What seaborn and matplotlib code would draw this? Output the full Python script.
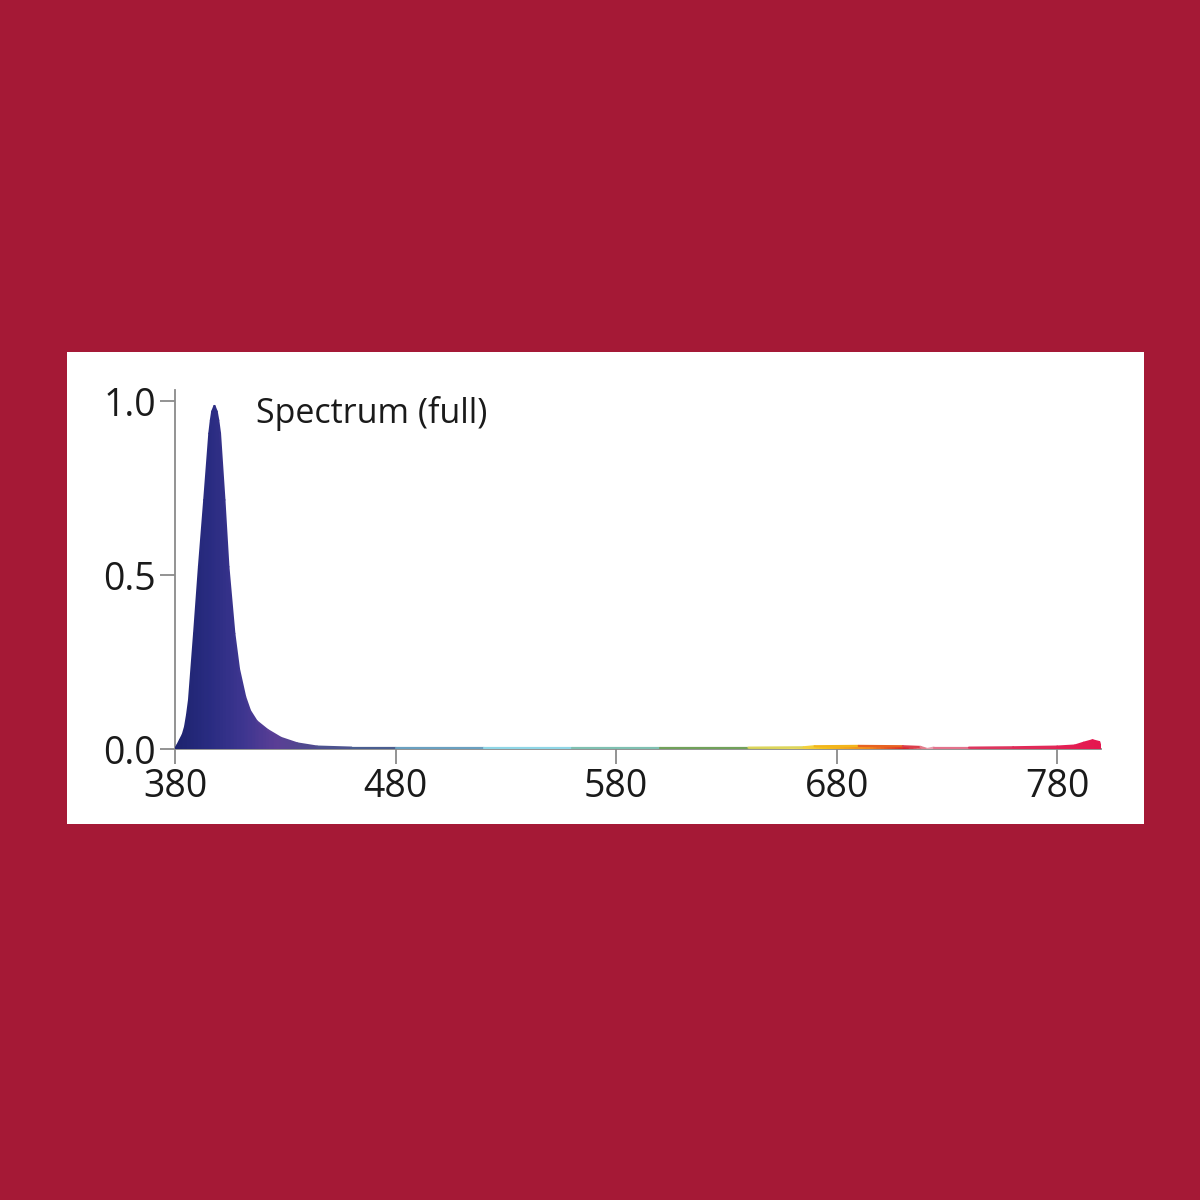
import numpy as np
import pandas as pd
import matplotlib
matplotlib.use('Agg')
import matplotlib.pyplot as plt
import matplotlib.patches as mpatches
from matplotlib.colors import LinearSegmentedColormap, Normalize
import seaborn as sns

# spectrum (wavelength in nm, relative intensity)
wavelength = [380, 381, 382.3, 383.6, 384.6, 385.5, 386.4, 388.7, 390.9, 393.3, 395.6,
              396.3, 396.9, 397.9, 398.9, 399.6, 400.4, 402.4, 404.2, 406.9, 409, 411.8,
              414, 417, 421.9, 428, 435.5, 444.4, 460, 480,
              520, 560, 600, 640, 665, 670, 690, 710, 718, 721, 724, 740, 760, 780,
              788, 792, 796, 799, 800]
intensity = [0.0, 0.01, 0.026, 0.042, 0.064, 0.098, 0.141, 0.332, 0.524, 0.716, 0.907,
             0.945, 0.970, 0.986, 0.970, 0.945, 0.907, 0.716, 0.524, 0.332, 0.23, 0.15,
             0.11, 0.08, 0.055, 0.032, 0.016, 0.007, 0.004, 0.004,
             0.004, 0.004, 0.004, 0.004, 0.005, 0.008, 0.009, 0.008, 0.006, 0.0, 0.004, 0.004,
             0.005, 0.007, 0.01, 0.018, 0.025, 0.02, 0.0]

x_ticks = [380, 480, 580, 680, 780]
y_ticks = [0.0, 0.5, 1.0]
y_labels = ['0.0', '0.5', '1.0']
title = 'Spectrum (full)'

# colour of the light at each wavelength
spec_nm = [380, 395, 410, 425, 440, 470, 500, 540, 580, 610, 640, 660, 675, 695, 712, 722, 745, 800]
spec_col = ['#1e2470', '#2a2c82', '#3e3690', '#5b3f96', '#4f4a8e', '#4a5f90', '#6aa0c0',
            '#8fd6e6', '#7fc0b0', '#4f9060', '#b0c050', '#f2e060', '#f3c21c', '#f08a1e',
            '#d8202a', '#e8a0b0', '#dc3a60', '#e5174f']
cmap = LinearSegmentedColormap.from_list(
    'spec', [((w - 380) / 420, c) for w, c in zip(spec_nm, spec_col)])
norm = Normalize(380, 800)

bg = '#A51936'
grey = '#8a8a8a'

sns.set_theme(style='ticks')
plt.rcParams['font.family'] = ['Liberation Sans Narrow', 'Open Sans', 'DejaVu Sans']

fig = plt.figure(figsize=(12, 12), dpi=100, facecolor=bg)

# white card behind the chart
card = fig.add_axes([0.0558, 0.3133, 0.8975, 0.3933])
card.set_facecolor('white')
card.set_xticks([])
card.set_yticks([])
for s in card.spines.values():
    s.set_visible(False)

ax = fig.add_axes([0.1458, 0.3758, 0.772, 0.2992])
ax.set_facecolor('none')

"""Gradient fill under the curve"""
ramp = np.linspace(380, 800, 600).reshape(1, -1)
img = ax.imshow(ramp, extent=[380, 800, 0, 1.05], aspect='auto', cmap=cmap, norm=norm,
                origin='lower', interpolation='bilinear', zorder=2)
shape = mpatches.Polygon(np.column_stack([wavelength, intensity]), closed=True,
                         transform=ax.transData)
img.set_clip_path(shape)

"""Outline coloured segment by segment"""
rows = []
for i in range(len(wavelength) - 1):
    mid = (wavelength[i] + wavelength[i + 1]) / 2
    rows.append((i, wavelength[i], intensity[i], mid))
    rows.append((i, wavelength[i + 1], intensity[i + 1], mid))
seg = pd.DataFrame(rows, columns=['seg', 'nm', 'val', 'mid'])
sns.lineplot(data=seg, x='nm', y='val', hue='mid', units='seg', estimator=None,
             palette=cmap, hue_norm=norm, legend=False, lw=1.6, ax=ax, zorder=3)

ax.set_xlim(380, 800)
ax.set_ylim(0, 1.032)
ax.set_xticks(x_ticks)
ax.set_yticks(y_ticks)
ax.set_yticklabels(y_labels)
ax.set_xlabel('')
ax.set_ylabel('')
ax.tick_params(direction='out', length=11, width=1.3, color=grey, labelsize=27,
               labelcolor='#1a1a1a', pad=2.5)
sns.despine(ax=ax)
for side in ['left', 'bottom']:
    ax.spines[side].set_color(grey)
    ax.spines[side].set_linewidth(1.3)
    ax.spines[side].set_zorder(1)

ax.text(416.8, 0.937, title, fontsize=24.5, color='#1a1a1a', ha='left', va='baseline')

fig.savefig('out.png', dpi=100, facecolor=bg)
